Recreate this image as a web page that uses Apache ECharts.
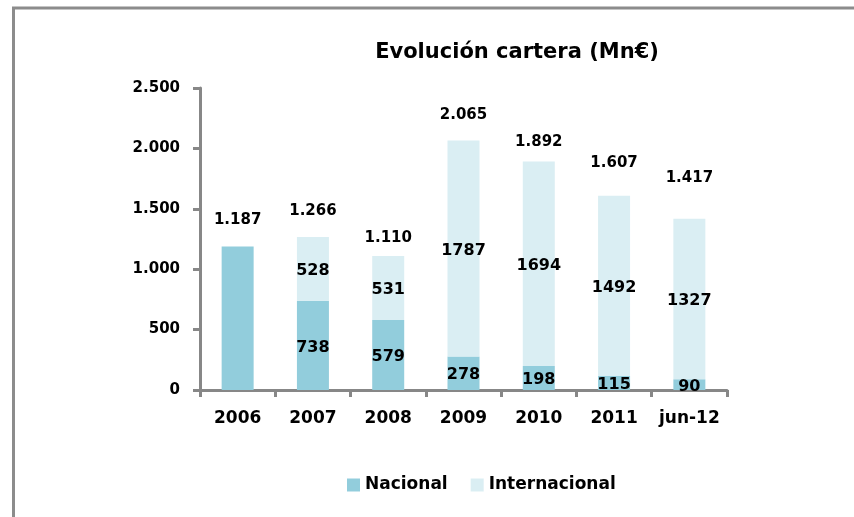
<!DOCTYPE html>
<html>
<head>
<meta charset="utf-8">
<script src="https://cdn.jsdelivr.net/npm/echarts@6/dist/echarts.min.js"></script>
<style>
html,body{margin:0;padding:0;background:#fff;}
#chart{width:854px;height:517px;}
</style>
</head>
<body>
<div id="chart"></div>
<script>
// ---- data ----
var categories = ['2006', '2007', '2008', '2009', '2010', '2011', 'jun-12'];
var nacional = [1187, 738, 579, 278, 198, 115, 90];
var internacional = [null, 528, 531, 1787, 1694, 1492, 1327];
var totals = [1187, 1266, 1110, 2065, 1892, 1607, 1417];
var yTicks = [0, 500, 1000, 1500, 2000, 2500];

// ---- style ----
var FONT = '"DejaVu Sans", sans-serif';
var AXIS_COLOR = '#878787';
var totalLift = [27, 26, 18, 25, 19, 33, 41]; // label placement (px) above stack top

function fmt(v) {
  return String(v).replace(/\B(?=(\d{3})+(?!\d))/g, '.');
}

var chart = echarts.init(document.getElementById('chart'), null, {renderer: 'canvas'});

var option = {
  backgroundColor: '#ffffff',
  animation: false,
  title: {
    text: 'Evolución cartera (Mn€)',
    left: 512,
    top: 48,
    textAlign: 'center',
    textVerticalAlign: 'middle',
    textStyle: {fontFamily: FONT, fontWeight: 'bold', fontSize: 21, color: '#000'}
  },
  legend: {
    data: ['Nacional', 'Internacional'],
    left: 347,
    top: 476,
    padding: 0,
    itemWidth: 13,
    itemHeight: 13,
    itemGap: 23,
    icon: 'rect',
    textStyle: {fontFamily: FONT, fontWeight: 'bold', fontSize: 17, color: '#000', padding: [0, 0, 0, 0], lineHeight: 18}
  },
  graphic: [{
    type: 'polyline',
    shape: {points: [[13.5, 517], [13.5, 8], [854, 8]]},
    style: {stroke: '#8c8c8c', lineWidth: 3, fill: null},
    silent: true
  }],
  grid: {left: 200, right: 127, top: 88, bottom: 127, containLabel: false},
  xAxis: {
    type: 'category',
    data: categories,
    axisLine: {show: true, lineStyle: {color: AXIS_COLOR, width: 3}},
    axisTick: {show: true, length: 7, lineStyle: {color: AXIS_COLOR, width: 3}},
    axisLabel: {interval: 0, margin: 20, fontFamily: FONT, fontWeight: 'bold', fontSize: 17, color: '#000'},
    splitLine: {show: false}
  },
  yAxis: {
    type: 'value',
    min: yTicks[0],
    max: yTicks[yTicks.length - 1],
    interval: yTicks[1] - yTicks[0],
    axisLine: {show: true, lineStyle: {color: AXIS_COLOR, width: 3}},
    axisTick: {show: true, length: 7, lineStyle: {color: AXIS_COLOR, width: 3}},
    axisLabel: {margin: 20, fontFamily: FONT, fontWeight: 'bold', fontSize: 15, color: '#000',
      formatter: function (v) { return fmt(v); }},
    splitLine: {show: false}
  },
  series: [
    {
      name: 'Nacional',
      type: 'bar',
      stack: 'total',
      barWidth: 32,
      itemStyle: {color: '#92CDDC'},
      label: {show: true, position: 'inside', offset: [0, 2], fontFamily: FONT, fontWeight: 'bold', fontSize: 16, color: '#000'},
      data: nacional.map(function (v, i) {
        return {value: v, label: {show: internacional[i] != null}};
      })
    },
    {
      name: 'Internacional',
      type: 'bar',
      stack: 'total',
      barWidth: 32,
      itemStyle: {color: '#DAEEF3'},
      label: {show: true, position: 'inside', offset: [0, 2], fontFamily: FONT, fontWeight: 'bold', fontSize: 16, color: '#000'},
      data: internacional
    },
    {
      name: 'Total',
      type: 'bar',
      barWidth: 32,
      barGap: '-100%',
      silent: true,
      z: 1,
      itemStyle: {color: 'rgba(0,0,0,0)'},
      label: {
        show: true,
        position: [16, 0],
        align: 'center',
        verticalAlign: 'middle',
        formatter: function (p) { return fmt(p.value); },
        fontFamily: FONT, fontWeight: 'bold', fontSize: 15, color: '#000',
        textBorderWidth: 0, textBorderColor: 'transparent'
      },
      data: totals.map(function (v, i) {
        return {value: v, label: {offset: [0, -totalLift[i]]}};
      })
    }
  ]
};

chart.setOption(option);
</script>
</body>
</html>
